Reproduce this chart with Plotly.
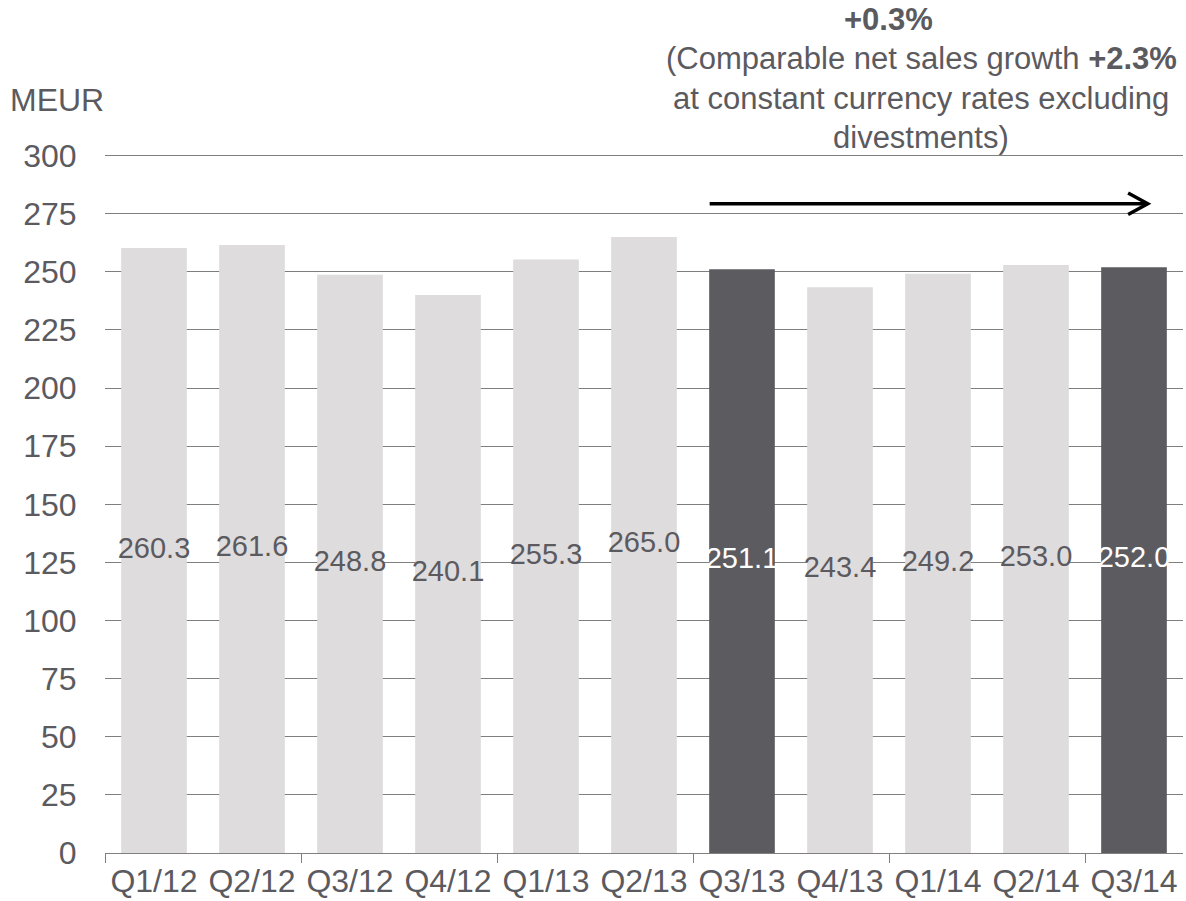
import plotly.graph_objects as go

categories = ["Q1/12", "Q2/12", "Q3/12", "Q4/12", "Q1/13", "Q2/13",
              "Q3/13", "Q4/13", "Q1/14", "Q2/14", "Q3/14"]
values = [260.3, 261.6, 248.8, 240.1, 255.3, 265.0, 251.1, 243.4, 249.2, 253.0, 252.0]
highlight = [False, False, False, False, False, False, True, False, False, False, True]
y_ticks = list(range(0, 301, 25))

LIGHT = "#DEDCDD"
DARK = "#5C5B60"
TXT = "#5B5A5F"
FONT = "Liberation Sans, Arial, sans-serif"

xs = list(range(len(categories)))
bar_colors = [DARK if h else LIGHT for h in highlight]
txt_colors = ["#FFFFFF" if h else TXT for h in highlight]

fig = go.Figure()
fig.add_trace(go.Bar(x=xs, y=values, marker=dict(color=bar_colors, line=dict(width=0)),
                     width=0.67, hoverinfo="skip"))
fig.add_trace(go.Scatter(x=xs, y=[v / 2 for v in values], mode="text",
                         text=[f"{v:.1f}" for v in values],
                         textfont=dict(size=29, color=txt_colors, family=FONT),
                         textposition="middle center", hoverinfo="skip"))

fig.update_layout(
    width=1186, height=901,
    margin=dict(l=105, r=3, t=151, b=48),
    paper_bgcolor="white", plot_bgcolor="white",
    showlegend=False,
    font=dict(family=FONT, color=TXT, size=29),
    bargap=0.33,
)
fig.update_xaxes(
    range=[-0.5, len(categories) - 0.5],
    tickvals=xs, ticktext=categories, ticks="",
    tickfont=dict(size=32, color=TXT),
    showline=True, linecolor="#808080", linewidth=1,
    showgrid=False, zeroline=False,
    minor=dict(tickvals=[-0.5, 1.5, 3.5, 5.5, 7.5, 9.5], ticks="outside",
               ticklen=9, tickcolor="#808080", tickwidth=1, showgrid=False),
)
fig.update_yaxes(
    range=[0, 302], tickvals=y_ticks,
    tickfont=dict(size=32, color=TXT),
    showgrid=True, gridcolor="#7F7F7F", gridwidth=1,
    zeroline=False, showline=False, ticks="outside", ticklen=21, tickcolor="rgba(0,0,0,0)",
)

PLOT_BOTTOM = 853
PLOT_H = 702
PLOT_L = 105
PLOT_W = 1078

# y-axis unit label
fig.add_annotation(text="MEUR", xref="paper", yref="paper",
                   x=(8 - PLOT_L) / PLOT_W, y=(PLOT_BOTTOM - 100) / PLOT_H,
                   xanchor="left", yanchor="middle", showarrow=False,
                   font=dict(size=32, color=TXT, family=FONT))

# growth annotation lines
lines = [("<b>+0.3%</b>", 888, 19),
         ("(Comparable net sales growth <b>+2.3%</b>", 921, 59),
         ("at constant currency rates excluding", 921, 99),
         ("divestments)", 921, 137)]
for t, px, py in lines:
    fig.add_annotation(text=t, xref="paper", yref="paper",
                       x=(px - PLOT_L) / PLOT_W, y=(PLOT_BOTTOM - py) / PLOT_H,
                       xanchor="center", yanchor="middle", showarrow=False,
                       font=dict(size=31, color=TXT, family=FONT))

# arrow
x0, x1, ya = 5.67, 10.14, 279.3
fig.add_shape(type="line", xref="x", yref="y", x0=x0, x1=x1 - 0.01, y0=ya, y1=ya,
              line=dict(color="black", width=3.5))
fig.add_shape(type="path", xref="x", yref="y",
              path=f"M {x1-0.2},{ya+4.6} L {x1},{ya} L {x1-0.2},{ya-4.6}",
              line=dict(color="black", width=3.5))

fig.write_html("out.html")
